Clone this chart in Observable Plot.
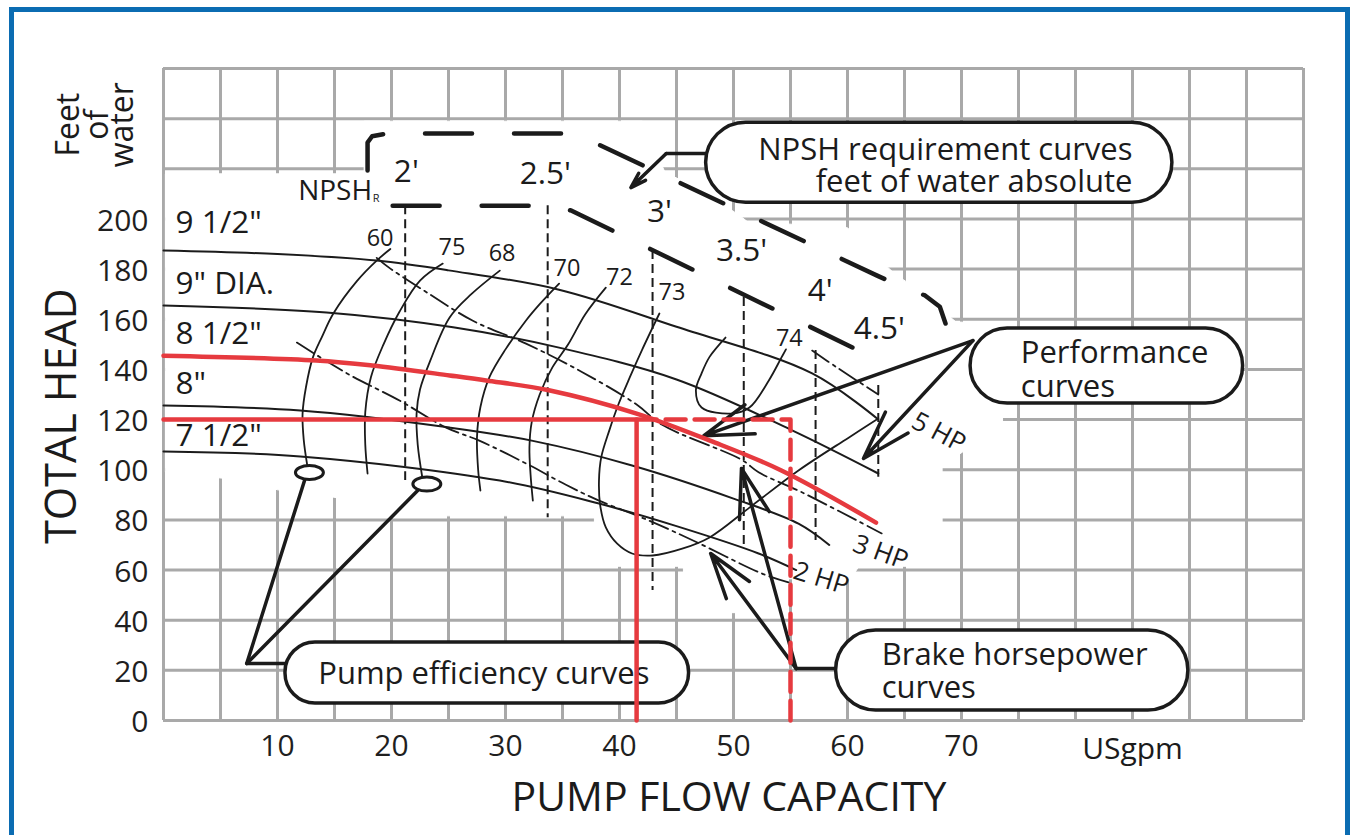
<!DOCTYPE html>
<html><head><meta charset="utf-8">
<script src="https://cdn.jsdelivr.net/npm/d3@7"></script>
<script src="https://cdn.jsdelivr.net/npm/@observablehq/plot@0.6"></script>
<style>
html,body{margin:0;padding:0;background:#fff;width:1354px;height:835px;overflow:hidden;}
#wrap{position:relative;width:1354px;height:835px;}
#wrap svg{position:absolute;left:0;top:0;}
#frame{position:absolute;left:9px;top:7px;width:1341px;height:900px;border:5px solid #0b6cb2;box-sizing:border-box;pointer-events:none;}
</style></head><body><div id="wrap"><div id="frame"></div></div>
<script>
// ---------- axis ticks ----------
const xTicks = [10, 20, 30, 40, 50, 60, 70];
const yTicks = [0, 20, 40, 60, 80, 100, 120, 140, 160, 180, 200];
const gridXValues = d3.range(0, 101, 5);
const gridYValues = d3.range(0, 261, 20);

// ---------- impeller head curves [gpm, ft] ----------
const head95 = [[0,187.4],[10,186],[18.7,183.4],[25,179.5],[34.7,171.8],[45,157],[56.9,138.4],[62.7,120]];
const head90 = [[0,165.5],[14.3,162.7],[25.4,156.8],[34.7,148.7],[45,136],[55,116],[62.7,98.5]];
const head85 = [[0,145.5],[13.4,143.6],[18.3,141.6],[25.1,137.6],[28.3,135.6],[33.9,131.6],[41.5,122.4],[48,111.5],[54.2,99.7],[62.5,78.9]];
const head80 = [[0,125.6],[12,123.6],[25.1,116.8],[32.4,111.5],[41.1,101.7],[50,88.5],[55.7,78.5],[58.4,70]];
const head75 = [[0,107.3],[12,105.3],[29.5,95.7],[38.2,86.5],[45,77.5],[52.2,66.6],[55.5,60]];
const diameterLabels = ['9 1/2"', '9" DIA.', '8 1/2"', '8"', '7 1/2"'];
const diameterLabelAt = [[1.05,198.6],[1.05,174.2],[1.05,154.3],[1.05,134.4],[1.05,113.6]];

// ---------- efficiency curves ----------
const eff60 = [[19.9,188],[18.7,183.4],[17,175.4],[14.9,162.3],[13.9,153],[13.1,144.7],[12.5,133],[12.2,122.4],[12.3,112],[12.6,102]];
const eff75 = [[24.5,182.2],[22.5,175.4],[20.7,163],[19.3,150],[18.2,137],[17.7,123],[17.7,110],[17.9,98.5]];
const eff68 = [[29.5,179.4],[27,170],[25.1,160.7],[23.4,143.5],[22.5,132],[22.2,122.4],[22.3,110],[22.7,97]];
const eff70 = [[34.7,174.2],[33,166],[31.8,159.5],[30,148],[28.6,137],[27.8,125],[27.5,113],[27.6,100],[27.8,91.7]];
const eff72 = [[38.8,172.6],[37,162],[35.5,150],[34.1,140.7],[33,130],[32.3,119],[32.1,108.9],[32.2,98],[32.4,87.7]];
const eff73 = [[43.5,162.3],[42,148],[40.9,136.8],[39.9,126],[39.1,115.6],[38.4,105],[38.2,95.7],[38.3,86],[38.8,77],[39.8,70.5],[41.1,66.6],[42.9,65.8],[45.5,68.5],[47.9,73],[51.4,84.9],[55.7,99.7],[60.1,112.8],[62.7,120.4]];
const eff74 = [[49.3,152.7],[47.9,145],[47.2,138.4],[46.7,131.6],[47.2,124.8],[49.9,122.4],[51.4,124.8],[53.1,135.6],[54.2,144.7],[54.6,148]];
const effLabels = ["60", "75", "68", "70", "72", "73", "74"];
const effLabelAt = [[19,192.2],[25.3,188.6],[29.7,186.2],[35.4,180.4],[40,176.6],[44.6,170.7],[54.9,152.3]];

// ---------- brake horsepower curves ----------
const bhp2 = [[11.7,150.7],[16.1,138.4],[20.7,127.6],[24.8,116.8],[27.7,111.6],[31.8,102.5],[35.3,94],[38.2,87.7],[42.6,79.7],[47,70.6],[52.5,58.6],[54.9,55]];
const bhp3 = [[18.7,184.5],[19.9,180.2],[23.1,170.7],[27.1,159.5],[31.8,150.3],[36.7,139],[41.5,126],[43.7,118],[50.7,104],[52.2,99],[56,91],[63,74.6]];
const bhp5 = [[56.9,147.5],[59,141],[62.7,130]];
const hpLabels = ["5 HP", "3 HP", "2 HP"];
const hpLabelAt = [[68,114.8],[62.9,67],[57.7,56.6]];
const hpLabelAngle = [28, 20, 17];

// ---------- NPSH requirement ----------
const npshX = [21.2, 33.7, 42.9, 50.9, 57.2, 62.7];
const npshTop = [205.3, 205.3, 187.4, 168.7, 147.5, 133.6];
const npshBottom = [95.7, 80.9, 51.8, 69, 71.8, 97];
const npshLabels = ["2'", "2.5'", "3'", "3.5'", "4'", "4.5'"];
const npshLabelAt = [[21.3,218.9],[33.5,218.1],[43.5,203],[50.7,187.4],[57.6,171.5],[62.8,156.3]];
const npshUpper = [[17.9,219.3],[17.9,230.5],[18.3,233],[19.6,234.1],[36.3,234.1],[37.4,231.3],[62.6,177.4],[65,172.5],[66.8,169.5],[68.1,165],[68.6,158.3]];
const npshLower = [[20.1,205.3],[34.2,205.3],[35.8,203.3],[61,147.5]];

// ---------- operating point (red) ----------
const dutyFlow = 41.5, dutyHead = 120, altFlow = 55;

// ---------- white area hiding the grid behind the curves ----------
const gridMask = [[0.2,218],[17.6,218],[17.6,239],[42,239],[44,218.5],[47,212],[50.5,201.5],[51.2,199],[60,196.5],[62.5,185],[64.3,177.5],[65.5,174],[69.5,159],[71.2,158.5],[71.2,127],[73.6,124.5],[73.6,118],[68.3,101.5],[68.3,62],[66,61.5],[61,61.5],[60.3,56.5],[50.7,56.5],[50.7,43],[45.7,43],[45.6,61.5],[37.8,61.5],[37.8,81.6],[18,81.6],[16.2,88],[14,89.8],[10,92],[6.5,96],[0.2,99]];

// ---------- axis titles ----------
const axisTitles = ["PUMP FLOW CAPACITY", "TOTAL HEAD"];
const unitWords = ["Feet", "of", "water"];
const unitWordAt = [[-8.35,237.6],[-5.8,237.6],[-3.6,237.6]];

// ---------- callouts ----------
const calloutLines = ["NPSH requirement curves", "feet of water absolute", "Performance", "curves", "Pump efficiency curves", "Brake horsepower", "curves"];
const calloutLineAt = [[85,227.3],[85,214.9],[75.2,146.7],[75.2,132.8],[28.1,18.7],[63,25.9],[63,12.8]];
const calloutLineAnchor = ["end", "end", "start", "start", "middle", "start", "start"];
const calloutBox = [[47.6,88.5,206.5,238.4],[70.8,94.7,126.4,156.3],[10.7,46.1,6.8,31.1],[59,89.9,4,35.9]];
const calloutRadius = [40, 37, 30, 40];
const leaderLines = [
  [[47.6,226.1],[44.1,226.1]],
  [[10.8,22.7],[7.3,22.7],[12.4,96.1]],
  [[7.3,22.7],[22.3,91.7]],
  [[59,20.7],[55.5,20.7]]
];
const arrows = [
  [44.1,226.1,41.0,212.5],
  [71.0,151.5,47.4,113.6],
  [71.0,151.5,61.4,104.5],
  [55.5,20.7,48.0,66.6],
  [55.5,20.7,50.7,100.5]
];
const ellipseAt = [[12.8,98.9],[23.1,94.3]];

// ---------- build tables ----------
const toRows = (series) => series.flatMap(([k, pts]) => pts.map(([x, y]) => ({k, x, y})));
const headRows = toRows([["9.5", head95], ["9", head90], ["8", head80], ["7.5", head75]]);
const effRows = toRows([["60", eff60], ["75", eff75], ["68", eff68], ["70", eff70], ["72", eff72], ["73", eff73], ["74", eff74]]);
const bhpRows = toRows([["2", bhp2], ["3", bhp3], ["5", bhp5]]);
const npshRules = npshX.map((x, i) => ({x, y1: npshTop[i], y2: npshBottom[i]}));
const leaderRows = leaderLines.flatMap((pts, i) => pts.map(([x, y]) => ({k: i, x, y})));
const arrowRows = arrows.map(([x1, y1, x2, y2]) => ({x1, y1, x2, y2}));
const lbl = (texts, at, extra = {}) => texts.map((t, i) => ({t, x: at[i][0], y: at[i][1], ...Object.fromEntries(Object.entries(extra).map(([k, v]) => [k, v[i]]))}));

const ink = "#1b1b1b";
const red = "#e63a3f";
const gridGray = "#a9a9a9";

const ellipseSymbol = {
  draw(ctx, size) {
    const r = Math.sqrt(size / Math.PI), rx = r * 2, ry = r, k = 0.5523;
    ctx.moveTo(rx, 0);
    ctx.bezierCurveTo(rx, ry * k, rx * k, ry, 0, ry);
    ctx.bezierCurveTo(-rx * k, ry, -rx, ry * k, -rx, 0);
    ctx.bezierCurveTo(-rx, -ry * k, -rx * k, -ry, 0, -ry);
    ctx.bezierCurveTo(rx * k, -ry, rx, -ry * k, rx, 0);
    ctx.closePath();
  }
};

const marks = [
  Plot.gridX(gridXValues, {stroke: gridGray, strokeOpacity: 1, strokeWidth: 3}),
  Plot.gridY(gridYValues, {stroke: gridGray, strokeOpacity: 1, strokeWidth: 3}),
  Plot.line(gridMask, {x: d => d[0], y: d => d[1], fill: "white", stroke: "white", strokeWidth: 1, curve: "linear-closed"}),
  Plot.axisY(yTicks, {tickSize: 0, tickPadding: 15, fontSize: 30, label: null, dy: 2}),
  Plot.axisX(xTicks, {tickSize: 0, tickPadding: 14, fontSize: 30, label: null}),
  Plot.text(["USgpm"], {x: 85, y: -11.4, text: d => d, fontSize: 30, fill: ink}),
  Plot.text([axisTitles[0]], {x: 49.6, y: -30.9, text: d => d, fontSize: 41, fill: ink}),
  Plot.text([axisTitles[1]], {x: -8.9, y: 121.4, text: d => d, rotate: -90, fontSize: 43, fill: ink}),
  Plot.text(lbl(unitWords, unitWordAt), {x: "x", y: "y", text: "t", rotate: -90, fontSize: 32, fill: ink}),

  // NPSH dashed verticals and requirement bands
  Plot.ruleX(npshRules, {x: "x", y1: "y1", y2: "y2", stroke: ink, strokeWidth: 2, strokeDasharray: "9,5"}),
  Plot.line(npshUpper, {x: d => d[0], y: d => d[1], stroke: ink, strokeWidth: 4.5, strokeDasharray: "47,42"}),
  Plot.line(npshLower, {x: d => d[0], y: d => d[1], stroke: ink, strokeWidth: 4.5, strokeDasharray: "47,42"}),

  // curves
  Plot.line(effRows, {x: "x", y: "y", z: "k", stroke: ink, strokeWidth: 1.8, curve: "catmull-rom"}),
  Plot.line(bhpRows, {x: "x", y: "y", z: "k", stroke: ink, strokeWidth: 1.8, strokeDasharray: "20,5,3,5", curve: "catmull-rom"}),
  Plot.line(headRows, {x: "x", y: "y", z: "k", stroke: ink, strokeWidth: 2, curve: "catmull-rom"}),

  // labels
  Plot.text(lbl(diameterLabels, diameterLabelAt), {x: "x", y: "y", text: "t", textAnchor: "start", fontSize: 31.5, fill: ink}),
  Plot.text(lbl(effLabels, effLabelAt), {x: "x", y: "y", text: "t", fontSize: 23.5, fill: ink}),
  Plot.text(lbl(npshLabels, npshLabelAt), {x: "x", y: "y", text: "t", fontSize: 31.5, fill: ink}),
  Plot.text(["NPSH"], {x: 18.3, y: 211.3, text: d => d, textAnchor: "end", fontSize: 28, fill: ink}),
  Plot.text(["R"], {x: 18.35, y: 208.0, text: d => d, textAnchor: "start", fontSize: 11, fill: ink}),
  Plot.text(lbl(hpLabels, hpLabelAt, {a: hpLabelAngle}), {x: "x", y: "y", text: "t", rotate: "a", fontSize: 26, fill: ink}),

  // callout connectors
  Plot.line(leaderRows, {x: "x", y: "y", z: "k", stroke: ink, strokeWidth: 3.5}),
  Plot.arrow(arrowRows, {x1: "x1", y1: "y1", x2: "x2", y2: "y2", stroke: ink, strokeWidth: 3.5, headLength: 22, headAngle: 35}),
  Plot.dot(ellipseAt, {x: d => d[0], y: d => d[1], r: 7, symbol: ellipseSymbol, stroke: ink, strokeWidth: 3, fill: "white"}),

  // callout boxes
  ...calloutBox.map((b, i) => Plot.rect([b], {x1: d => d[0], x2: d => d[1], y1: d => d[2], y2: d => d[3], rx: calloutRadius[i], fill: "white", stroke: ink, strokeWidth: 3.5})),
  ...calloutLines.map((t, i) => Plot.text([t], {x: calloutLineAt[i][0], y: calloutLineAt[i][1], text: d => d, textAnchor: calloutLineAnchor[i], fontSize: 31, fill: ink})),

  // red operating point
  Plot.line(head85, {x: d => d[0], y: d => d[1], stroke: red, strokeWidth: 4.5, curve: "catmull-rom"}),
  Plot.line([[0, dutyHead], [dutyFlow, dutyHead], [dutyFlow, 0]], {x: d => d[0], y: d => d[1], stroke: red, strokeWidth: 4.5}),
  Plot.line([[dutyFlow, dutyHead], [altFlow, dutyHead], [altFlow, 0]], {x: d => d[0], y: d => d[1], stroke: red, strokeWidth: 4.5, strokeDasharray: "20,9"})
];

const chart = Plot.plot({
  width: 1354, height: 835,
  marginLeft: 163, marginRight: 51, marginTop: 68, marginBottom: 115,
  x: {domain: [0, 100]},
  y: {domain: [0, 260]},
  style: {fontFamily: "'Open Sans', 'Noto Sans', sans-serif", fontSize: "28px", color: "#1f1f1f", background: "white", overflow: "visible"},
  marks
});
document.getElementById("wrap").prepend(chart);
</script></body></html>
